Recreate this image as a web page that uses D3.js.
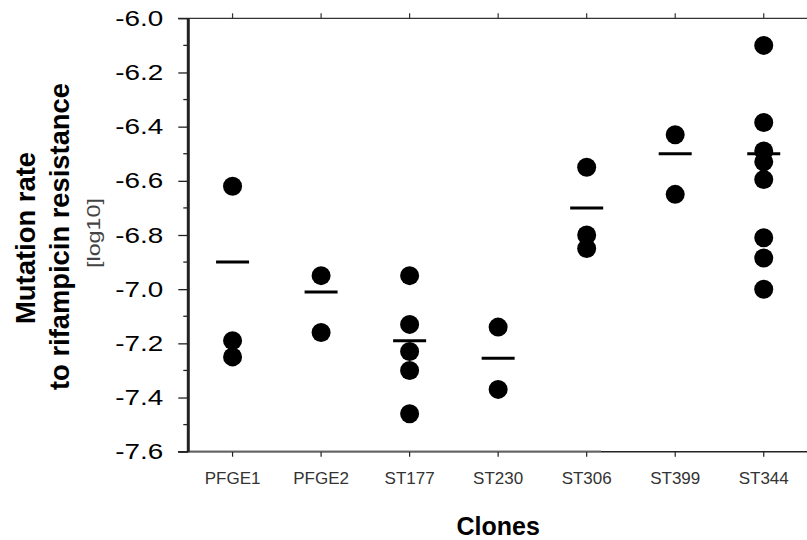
<!DOCTYPE html>
<html>
<head>
<meta charset="utf-8">
<script src="https://cdn.jsdelivr.net/npm/d3@7"></script>
<style>
  html, body { margin: 0; padding: 0; background: #fff; }
  svg { display: block; }
  text { font-family: "Liberation Sans", Arial, sans-serif; }
</style>
</head>
<body>
<svg id="chart" width="807" height="540"></svg>
<script>
// ---- data ----
const clones = ["PFGE1", "PFGE2", "ST177", "ST230", "ST306", "ST399", "ST344"];
const pfge1 = [-6.62, -7.19, -7.25];
const pfge2 = [-6.95, -7.16];
const st177 = [-6.95, -7.13, -7.23, -7.30, -7.46];
const st230 = [-7.14, -7.37];
const st306 = [-6.55, -6.80, -6.85];
const st399 = [-6.43, -6.65];
const st344 = [-6.10, -6.385, -6.49, -6.53, -6.595, -6.81, -6.885, -7.00];
const meanLines = [-6.90, -7.01, -7.19, -7.255, -6.70, -6.50, -6.50];
const yTicks = [-7.6, -7.4, -7.2, -7.0, -6.8, -6.6, -6.4, -6.2, -6.0];
const yMinorTicks = [-7.5, -7.3, -7.1, -6.9, -6.7, -6.5, -6.3, -6.1];
const yTitle = ["Mutation rate", "to rifampicin resistance"];
const yUnit = "[log10]";
const xTitle = "Clones";

const seriesValues = [pfge1, pfge2, st177, st230, st306, st399, st344];

// ---- layout ----
const svg = d3.select("#chart");
const mLeft = 188.3, mRight = 808, mTop = 18.3, mBottom = 451.7;

const x = d3.scaleBand().domain(clones).range([mLeft, mRight]).padding(0);
const xc = d => x(d) + x.bandwidth() / 2;
const y = d3.scaleLinear().domain([-7.6, -6.0]).range([mBottom, mTop]);

// top axis (thin)
svg.append("line")
  .attr("x1", 178).attr("x2", 807).attr("y1", mTop).attr("y2", mTop)
  .attr("stroke", "#333").attr("stroke-width", 1.2);
svg.selectAll(".ttick").data(clones).enter().append("line")
  .attr("x1", d => xc(d)).attr("x2", d => xc(d))
  .attr("y1", mTop).attr("y2", mTop - 5)
  .attr("stroke", "#333").attr("stroke-width", 1.2);

// bottom axis
const xAxis = d3.axisBottom(x).tickSize(5).tickPadding(15);
const gx = svg.append("g").attr("transform", `translate(0,${mBottom})`).call(xAxis);
gx.select(".domain").remove();
gx.selectAll(".tick line").attr("stroke", "#222").attr("stroke-width", 1.2);
gx.selectAll(".tick text")
  .attr("font-size", 17).attr("fill", "#333")
  .attr("dy", "0.71em");
svg.append("line")
  .attr("x1", 178).attr("x2", 807).attr("y1", mBottom).attr("y2", mBottom)
  .attr("stroke", "#222").attr("stroke-width", 1.5);
svg.append("line")
  .attr("x1", mLeft).attr("x2", 601).attr("y1", mBottom - 0.5).attr("y2", mBottom - 0.5)
  .attr("stroke", "#777").attr("stroke-width", 1.2);

// left axis
const yAxis = d3.axisLeft(y).tickValues(yTicks).tickSize(10).tickPadding(15)
  .tickFormat(d => d.toFixed(1));
const gy = svg.append("g").attr("transform", `translate(${mLeft},0)`).call(yAxis);
gy.select(".domain").remove();
gy.selectAll(".tick line").attr("stroke", "#222").attr("stroke-width", 1.3);
gy.selectAll(".tick text")
  .attr("font-size", 22).attr("fill", "#000")
  .attr("textLength", 48).attr("lengthAdjust", "spacingAndGlyphs");
svg.selectAll(".ymin").data(yMinorTicks).enter().append("line")
  .attr("x1", mLeft - 5).attr("x2", mLeft)
  .attr("y1", d => y(d)).attr("y2", d => y(d))
  .attr("stroke", "#222").attr("stroke-width", 1.3);
svg.append("line")
  .attr("x1", mLeft).attr("x2", mLeft).attr("y1", mTop).attr("y2", mBottom)
  .attr("stroke", "#222").attr("stroke-width", 3);

// dots
const points = [];
clones.forEach((c, i) => seriesValues[i].forEach(v => points.push({c, v})));
svg.selectAll(".dot").data(points).enter().append("circle")
  .attr("cx", d => xc(d.c)).attr("cy", d => y(d.v)).attr("r", 9.5)
  .attr("fill", "#000");

// mean lines
svg.selectAll(".mean").data(clones).enter().append("line")
  .attr("x1", d => xc(d) - 16.5).attr("x2", d => xc(d) + 16.5)
  .attr("y1", (d, i) => y(meanLines[i])).attr("y2", (d, i) => y(meanLines[i]))
  .attr("stroke", "#000").attr("stroke-width", 3);

// y title
const cy = 238;
svg.append("text").text(yTitle[0])
  .attr("transform", `translate(35,${cy}) rotate(-90)`)
  .attr("text-anchor", "middle").attr("font-weight", "bold").attr("font-size", 27)
  .attr("textLength", 172).attr("lengthAdjust", "spacingAndGlyphs");
svg.append("text").text(yTitle[1])
  .attr("transform", `translate(69,${cy - 1.5}) rotate(-90)`)
  .attr("text-anchor", "middle").attr("font-weight", "bold").attr("font-size", 27)
  .attr("textLength", 307).attr("lengthAdjust", "spacingAndGlyphs");
svg.append("text").text(yUnit)
  .attr("transform", `translate(100,233) rotate(-90)`)
  .attr("text-anchor", "middle").attr("font-size", 19).attr("fill", "#444")
  .attr("textLength", 70).attr("lengthAdjust", "spacingAndGlyphs");

// x title
svg.append("text").text(xTitle)
  .attr("x", (mLeft + mRight) / 2).attr("y", 535)
  .attr("text-anchor", "middle").attr("font-weight", "bold").attr("font-size", 25);
</script>
</body>
</html>
